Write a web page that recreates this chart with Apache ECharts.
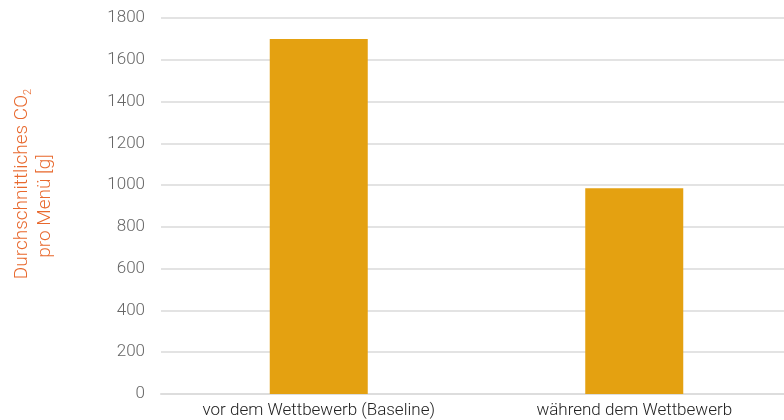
<!DOCTYPE html>
<html><head><meta charset="utf-8">
<script src="https://cdn.jsdelivr.net/npm/echarts@6/dist/echarts.min.js"></script>
<style>html,body{margin:0;padding:0;background:#fff}#c{width:784px;height:420px}</style>
</head><body><div id="c"></div>
<script>
const categories = ["vor dem Wettbewerb (Baseline)", "während dem Wettbewerb"];
const values = [1700, 985];
const yTicks = {min: 0, max: 1800, interval: 200};
const fontFam = "Roboto, 'Liberation Sans', sans-serif";
const chart = echarts.init(document.getElementById('c'), null, {renderer: 'canvas'});
chart.setOption({
  animation: false,
  grid: {left: 161, right: -8, top: 18, bottom: 26, containLabel: false, outerBoundsMode: 'none'},
  xAxis: {
    type: 'category', data: categories,
    axisLine: {lineStyle: {color: '#dddddd', width: 2}},
    axisTick: {show: false},
    axisLabel: {color: '#222', fontSize: 17, fontFamily: fontFam, fontWeight: 300, margin: 8}
  },
  yAxis: {
    type: 'value', min: yTicks.min, max: yTicks.max, interval: yTicks.interval,
    axisLine: {show: false}, axisTick: {show: false},
    splitLine: {lineStyle: {color: '#e3e3e3', width: 2}},
    axisLabel: {color: '#666', fontSize: 17, fontFamily: fontFam, fontWeight: 300, margin: 16,
      formatter: function (v) { return String(v); }},
    name: '{p|}{a|Durchschnittliches CO}{s|2}\n{a|pro Menü [g]}',
    nameLocation: 'middle', nameRotate: 90, nameGap: 104,
    nameTextStyle: {
      color: '#E8692E', fontFamily: fontFam, fontWeight: 300, lineHeight: 23, align: 'center',
      rich: {
        p: {width: 44, height: 10},
        a: {fontSize: 19, color: '#E8692E', fontFamily: fontFam, fontWeight: 300, lineHeight: 23},
        s: {fontSize: 11, color: '#E8692E', fontFamily: fontFam, fontWeight: 300, verticalAlign: 'bottom', lineHeight: 23}
      }
    }
  },
  series: [{
    type: 'bar', data: values, barWidth: 98,
    itemStyle: {color: '#E4A111'}
  }]
});
</script></body></html>
